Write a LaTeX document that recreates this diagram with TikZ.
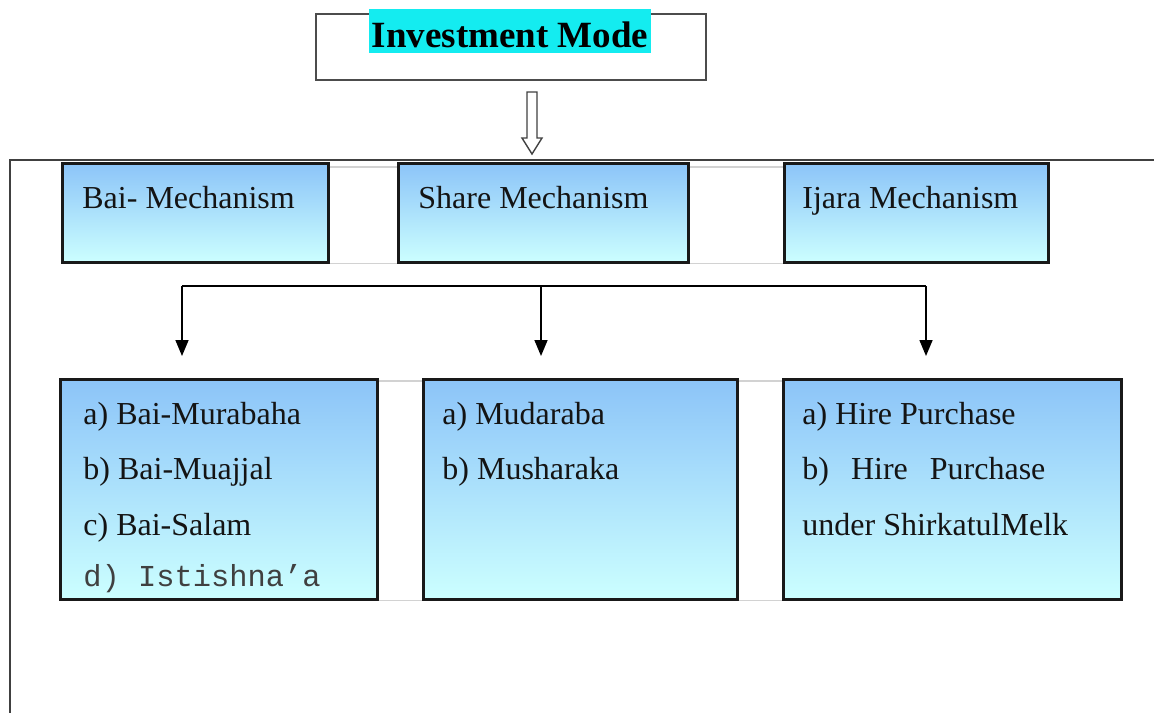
\documentclass[tikz,border=0pt]{standalone}
\usepackage{fontspec}
\setmainfont{Liberation Serif}
\setmonofont{Liberation Mono}
\usetikzlibrary{arrows.meta}

\definecolor{boxtop}{RGB}{140,196,248}
\definecolor{boxbot}{RGB}{204,255,255}
\definecolor{hilite}{RGB}{20,236,240}
\definecolor{cellgray}{RGB}{210,210,210}

\tikzset{
  mechbox/.style={draw=black!90, line width=1.3pt, top color=boxtop, bottom color=boxbot,
    anchor=north west, inner sep=0pt},
  item/.style={anchor=base west, inner sep=0pt, text=black!92, font=\fontsize{16}{19}\selectfont},
  cellline/.style={draw=cellgray, line width=0.6pt},
  arr/.style={line width=0.8pt, -{Triangle[length=8pt,width=6.5pt]}}
}

\begin{document}
\begin{tikzpicture}[x=0.5pt,y=-0.5pt]
  \useasboundingbox (0,0) rectangle (1154,713);
  % title box
  \node[draw=black!70, line width=0.8pt, minimum width=195pt, minimum height=33pt,
    anchor=north west, inner sep=0pt] (mode) at (315,13) {};
  \node[fill=hilite, inner xsep=1.5pt, inner ysep=0pt, text height=19pt, text depth=3pt,
    font=\bfseries\fontsize{18.5}{22}\selectfont, anchor=base] (modetitle) at (510,47) {Investment Mode};
  % hollow arrow
  \draw[black!75, line width=0.7pt, fill=white]
    (527,92) -- (537,92) -- (537,138) -- (542,138) -- (532,154) -- (522,138) -- (527,138) -- cycle;
  % frame lines
  \draw[line width=0.8pt, black!75] (1154,160) -- (10,160) -- (10,713);

  % mechanisms
  \node[mechbox, minimum width=133pt, minimum height=49.5pt] (bai) at (61,162) {};
  \node[mechbox, minimum width=145pt, minimum height=49.5pt] (share) at (397,162) {};
  \node[mechbox, minimum width=132pt, minimum height=49.5pt] (ijara) at (783,162) {};
  \node[item] (bailabel) at ([shift={(21,46)}]bai.north west) {Bai- Mechanism};
  \node[item] (sharelabel) at ([shift={(21,46)}]share.north west) {Share Mechanism};
  \node[item] (ijaralabel) at ([shift={(19,46)}]ijara.north west) {Ijara Mechanism};
  \draw[cellline] ([yshift=-2.5pt]bai.north east) -- ([yshift=-2.5pt]share.north west);
  \draw[cellline] ([yshift=-2.5pt]share.north east) -- ([yshift=-2.5pt]ijara.north west);
  \draw[cellline] (bai.south east) -- (share.south west);
  \draw[cellline] (share.south east) -- (ijara.south west);

  % fork
  \coordinate (forkl) at (182,286);
  \coordinate (forkm) at (541,286);
  \coordinate (forkr) at (926,286);
  \coordinate (tipl) at (182,356);
  \coordinate (tipm) at (541,356);
  \coordinate (tipr) at (926,356);
  \draw[line width=0.8pt] (forkl) -- (forkr);
  \foreach \f/\t in {forkl/tipl, forkm/tipm, forkr/tipr}
    \draw[arr] (\f) -- (\t);

  % lists
  \node[mechbox, minimum width=158.5pt, minimum height=110pt] (bailist) at (59,378) {};
  \node[mechbox, minimum width=157pt, minimum height=110pt] (sharelist) at (422,378) {};
  \node[mechbox, minimum width=169pt, minimum height=110pt] (ijaralist) at (782,378) {};
  \draw[cellline] ([yshift=-1.5pt]bailist.north east) -- ([yshift=-1.5pt]sharelist.north west);
  \draw[cellline] ([yshift=-1.5pt]sharelist.north east) -- ([yshift=-1.5pt]ijaralist.north west);
  \draw[cellline] (bailist.south east) -- (sharelist.south west);
  \draw[cellline] (sharelist.south east) -- (ijaralist.south west);

  \foreach \txt [count=\i] in {a) Bai-Murabaha, b) Bai-Muajjal, c) Bai-Salam}
    \node[item] (baiitem\i) at ([shift={(24,{46+55.5*(\i-1)})}]bailist.north west) {\txt};
  \node[item, text=black!75, font=\ttfamily\fontsize{15.2}{18}\selectfont] (baiitem4)
    at ([shift={(24,208)}]bailist.north west) {d) Istishna’a};
  \foreach \txt [count=\i] in {a) Mudaraba, b) Musharaka}
    \node[item] (shareitem\i) at ([shift={(20,{46+55.5*(\i-1)})}]sharelist.north west) {\txt};
  \node[item] (ijaraitem1) at ([shift={(20,46)}]ijaralist.north west) {a) Hire Purchase};
  \node[item] (ijaraitem2) at ([shift={(20,101)}]ijaralist.north west) {\makebox[121.5pt][s]{b) Hire Purchase}};
  \node[item] (ijaraitem3) at ([shift={(20,157)}]ijaralist.north west) {under ShirkatulMelk};
\end{tikzpicture}
\end{document}
